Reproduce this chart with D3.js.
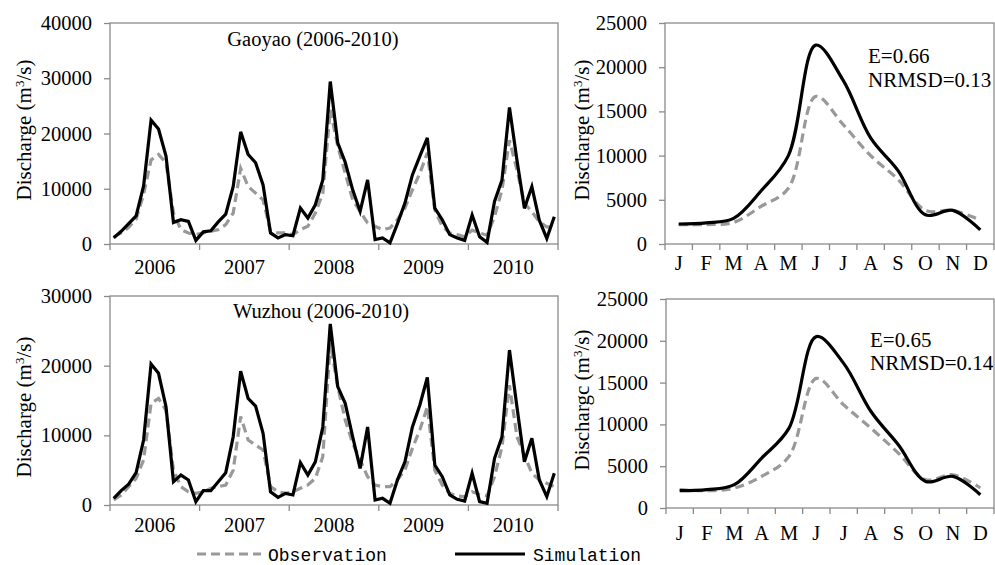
<!DOCTYPE html>
<html>
<head>
<meta charset="utf-8">
<script src="https://cdn.jsdelivr.net/npm/d3@7"></script>
<style>
  html, body { margin: 0; padding: 0; background: #fff; }
  svg { display: block; }
</style>
</head>
<body>
<div id="chart"></div>
<script>
// ---------------- DATA ----------------
const years = ["2006", "2007", "2008", "2009", "2010"];
const months = ["J", "F", "M", "A", "M", "J", "J", "A", "S", "O", "N", "D"];

const gaoyaoSim = [
  1100, 2300, 3700, 5100, 10500, 22400, 20800, 15900, 3900, 4400, 4100, 660,
  2200, 2400, 4000, 5400, 10400, 20300, 16200, 14700, 10700, 2000, 1100, 1700,
  1500, 6500, 4700, 7100, 11600, 29400, 18300, 14800, 9800, 5900, 11600, 800,
  1100, 200, 3700, 7400, 12500, 15900, 19200, 6500, 4400, 1700, 1100, 660,
  5250, 1300, 300, 7700, 11600, 24700, 15200, 6450, 10400, 4300, 1000, 4950
];
const gaoyaoObs = [
  1300, 2000, 3000, 4500, 9000, 15200, 16200, 14700, 5600, 2600, 2000, 1700,
  2000, 2300, 2600, 3500, 5600, 13700, 10400, 9200, 8000, 2300, 2000, 2000,
  1700, 2600, 3200, 5600, 9200, 24300, 17700, 12800, 8000, 5900, 3800, 3200,
  2600, 2900, 4400, 6500, 9800, 12800, 16500, 6200, 3200, 2000, 1700, 1300,
  2500, 2000, 1600, 4950, 9800, 18800, 13400, 7400, 5850, 4000, 3100, 3100
];
const wuzhouSim = [
  960, 2060, 3000, 4640, 9330, 20240, 18900, 14100, 3350, 4300, 3600, 480,
  2060, 2060, 3350, 4640, 9800, 19200, 15300, 14200, 10300, 1900, 1100, 1670,
  1440, 6080, 4300, 6200, 11200, 26000, 17000, 14600, 9800, 5260, 11200, 720,
  960, 240, 3600, 6200, 11200, 14350, 18300, 5740, 4070, 1440, 810, 570,
  4550, 480, 240, 6700, 9800, 22240, 14100, 6200, 9570, 3590, 1200, 4550
];
const wuzhouObs = [
  720, 1440, 2630, 3830, 6460, 14600, 15300, 13600, 5000, 2630, 1900, 1670,
  1900, 2400, 2630, 2870, 5000, 12700, 9330, 8600, 7900, 2630, 1900, 1670,
  1900, 2400, 2870, 3830, 6940, 23200, 17000, 12200, 8850, 6460, 4070, 2870,
  2630, 2630, 3600, 5000, 8130, 10800, 14100, 5000, 2870, 1670, 1300, 1200,
  1900, 1500, 1300, 4060, 8370, 17200, 9800, 7170, 4550, 3590, 3110, 2630
];

const gaoyaoMonthSim = [2260, 2400, 2900, 6000, 10000, 22500, 18500, 12000, 8300, 3300, 3800, 1600];
const gaoyaoMonthObs = [2200, 2200, 2440, 4250, 6300, 16700, 13500, 10000, 7300, 3800, 3800, 2700];
const wuzhouMonthSim = [2070, 2190, 2790, 5970, 9550, 20500, 17300, 11540, 7560, 3180, 3780, 1590];
const wuzhouMonthObs = [2190, 2070, 2390, 3780, 6170, 15500, 12340, 9550, 6570, 3380, 3980, 2390];

const ticksTopLeft = [0, 10000, 20000, 30000, 40000];
const ticksBottomLeft = [0, 10000, 20000, 30000];
const ticksRight = [0, 5000, 10000, 15000, 20000, 25000];

// ---------------- DRAWING ----------------
const W = 995, H = 565;
const serif = "'Liberation Serif', 'Times New Roman', serif";
const frameColor = "#8a8a8a";
const obsColor = "#999999";

const svg = d3.select("#chart").append("svg")
  .attr("width", W).attr("height", H)
  .style("font-family", serif);

function panel(cfg) {
  const g = svg.append("g");
  const n = cfg.sim.length;
  const xi = d3.scaleBand().domain(d3.range(n)).range([cfg.x0, cfg.x1]).paddingInner(0).paddingOuter(0);
  const xc = d3.scaleBand().domain(cfg.cats.map((d, i) => i)).range([cfg.x0, cfg.x1]);
  const y = d3.scaleLinear().domain([0, cfg.ymax]).range([cfg.yBot, cfg.yTop]);

  // frame
  g.append("rect")
    .attr("x", cfg.x0).attr("y", cfg.yTop)
    .attr("width", cfg.x1 - cfg.x0).attr("height", cfg.yBot - cfg.yTop)
    .attr("fill", "none").attr("stroke", frameColor).attr("stroke-width", 1.3);

  // y axis
  const ya = g.append("g").attr("transform", `translate(${cfg.x0},0)`)
    .call(d3.axisLeft(y).tickValues(cfg.yticks).tickSize(6).tickSizeOuter(0).tickPadding(12).tickFormat(d3.format("d")));
  ya.select(".domain").remove();
  ya.selectAll(".tick line").attr("stroke", frameColor).attr("stroke-width", 1.3);
  ya.selectAll(".tick text").attr("fill", "#000").style("font-size", "20.5px").style("font-family", serif);

  // x axis: tick marks at category edges, labels at centers
  const xa = g.append("g").attr("transform", `translate(0,${cfg.yBot})`)
    .call(d3.axisBottom(xc).tickSize(0).tickFormat(i => cfg.cats[i]));
  xa.select(".domain").remove();
  xa.selectAll(".tick text").attr("y", cfg.labelOff).attr("dy", 0)
    .attr("fill", "#000").style("font-size", "20.5px").style("font-family", serif);
  const edges = cfg.cats.map((d, i) => xc(i)).concat([cfg.x1]);
  g.selectAll("line.xt").data(edges).enter().append("line")
    .attr("x1", d => d).attr("x2", d => d)
    .attr("y1", cfg.yBot).attr("y2", cfg.yBot + 6)
    .attr("stroke", frameColor).attr("stroke-width", 1.3);

  const line = d3.line()
    .x((d, i) => xi(i) + xi.bandwidth() / 2)
    .y(d => y(d))
    .curve(cfg.curve);

  g.append("path").datum(cfg.obs).attr("d", line)
    .attr("fill", "none").attr("stroke", obsColor).attr("stroke-width", 3.2)
    .attr("stroke-dasharray", "9,5");
  g.append("path").datum(cfg.sim).attr("d", line)
    .attr("fill", "none").attr("stroke", "#000").attr("stroke-width", 3.2)
    .attr("stroke-linejoin", "miter");

  // y label
  const yl = g.append("text")
    .attr("transform", `translate(${cfg.ylx},${cfg.yly}) rotate(-90)`)
    .attr("text-anchor", "middle")
    .style("font-size", "21px").attr("fill", "#000");
  yl.append("tspan").text(cfg.ylabel + " (m");
  yl.append("tspan").attr("dy", -7).style("font-size", "13px").text("3");
  yl.append("tspan").attr("dy", 7).text("/s)");

  if (cfg.title) {
    g.append("text").attr("x", cfg.title.x).attr("y", cfg.title.y)
      .attr("text-anchor", "middle").style("font-size", "20.5px").attr("fill", "#000")
      .text(cfg.title.text);
  }
  if (cfg.notes) {
    cfg.notes.forEach(nt => {
      g.append("text").attr("x", nt.x).attr("y", nt.y)
        .style("font-size", "21px").attr("fill", "#000").text(nt.text);
    });
  }
}

panel({
  x0: 110, x1: 558, yTop: 23, yBot: 244, ymax: 40000, yticks: ticksTopLeft,
  cats: years, labelOff: 30, sim: gaoyaoSim, obs: gaoyaoObs, curve: d3.curveLinear,
  ylabel: "Discharge", ylx: 31, yly: 130,
  title: { text: "Gaoyao (2006-2010)", x: 313, y: 46 }
});
panel({
  x0: 110, x1: 558, yTop: 296, yBot: 505, ymax: 30000, yticks: ticksBottomLeft,
  cats: years, labelOff: 27, sim: wuzhouSim, obs: wuzhouObs, curve: d3.curveLinear,
  ylabel: "Discharge", ylx: 31, yly: 407,
  title: { text: "Wuzhou (2006-2010)", x: 321, y: 318 }
});
panel({
  x0: 665, x1: 994, yTop: 23, yBot: 244, ymax: 25000, yticks: ticksRight,
  cats: months, labelOff: 26, sim: gaoyaoMonthSim, obs: gaoyaoMonthObs, curve: d3.curveCatmullRom.alpha(0.5),
  ylabel: "Discharge", ylx: 589, yly: 130,
  notes: [{ text: "E=0.66", x: 868, y: 63 }, { text: "NRMSD=0.13", x: 868, y: 87 }]
});
panel({
  x0: 666, x1: 994, yTop: 299, yBot: 508, ymax: 25000, yticks: ticksRight,
  cats: months, labelOff: 32, sim: wuzhouMonthSim, obs: wuzhouMonthObs, curve: d3.curveCatmullRom.alpha(0.5),
  ylabel: "Dischargc", ylx: 589, yly: 400,
  notes: [{ text: "E=0.65", x: 870, y: 347 }, { text: "NRMSD=0.14", x: 870, y: 370 }]
});

// legend
const mono = "'Liberation Mono', 'DejaVu Sans Mono', monospace";
const lg = svg.append("g");
lg.append("line").attr("x1", 197).attr("x2", 261).attr("y1", 554).attr("y2", 554)
  .attr("stroke", obsColor).attr("stroke-width", 3.2).attr("stroke-dasharray", "9,5");
lg.append("text").attr("x", 268).attr("y", 561).style("font-family", mono).style("font-size", "18px")
  .attr("fill", "#000").text("Observation");
lg.append("line").attr("x1", 455).attr("x2", 525).attr("y1", 554).attr("y2", 554)
  .attr("stroke", "#000").attr("stroke-width", 3.2);
lg.append("text").attr("x", 533).attr("y", 561).style("font-family", mono).style("font-size", "18px")
  .attr("fill", "#000").text("Simulation");
</script>
</body>
</html>
